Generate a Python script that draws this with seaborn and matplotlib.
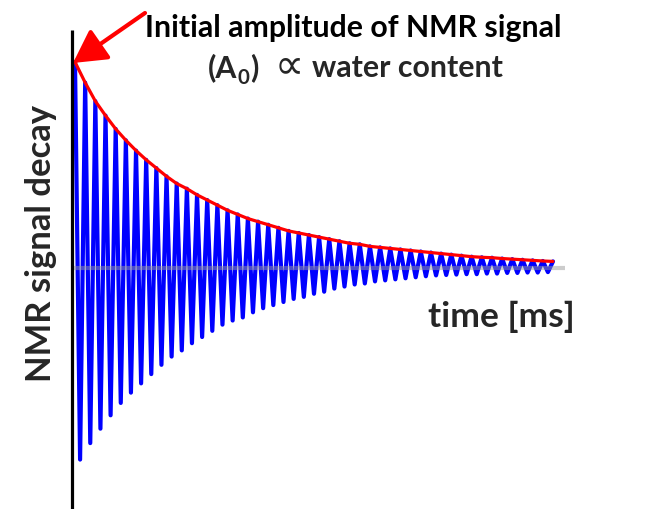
import matplotlib
matplotlib.use("Agg")
import matplotlib.pyplot as plt
import seaborn as sns
import pandas as pd
from matplotlib.patches import Rectangle

# ---------------- data ----------------
# signal in arbitrary units, initial amplitude A0 = 100
peak_times = list(range(48))                      # ms, upper maxima
peak_amp = [100, 90, 81, 74, 67.5, 62, 57, 52.5, 48.5, 44.5,
            41, 38.5, 35.5, 33, 30.5, 28, 26, 24, 22.5, 21,
            19.5, 18, 17, 16, 15, 14, 13, 12, 11.5, 10.5,
            10, 9.5, 9, 8.5, 8, 7.5, 7, 6.5, 6, 5.5,
            5.2, 5, 4.6, 4.3, 4, 3.7, 3.4, 3.2]
trough_times = [t + 0.5 for t in range(47)]       # ms, lower minima
trough_amp = [93, 85, 78, 71.5, 65.5, 60.5, 56, 51.5, 47, 43,
              40, 36.5, 33.5, 30.5, 27.5, 25.5, 24, 21.5, 19.5, 18,
              16.5, 15, 14, 12.5, 11.5, 10, 9, 8, 7.5, 6.5,
              6, 5.5, 5, 4.5, 4, 3.6, 3.4, 3.2, 3, 3,
              2.7, 2.7, 2.4, 2.4, 2.2, 2.2, 2]

title_line1 = "Initial amplitude of NMR signal"
title_line2_parts = ["(A", "0", ")", "\u221d", "water content"]
x_label = "time [ms]"
y_label = "NMR signal decay"

# ---------------- figure ----------------
sns.set_theme(style="white")
plt.rcParams["font.family"] = ["Lato", "DejaVu Sans"]

W, H = 666, 509
fig = plt.figure(figsize=(W / 100, H / 100), dpi=100)
fig.patch.set_facecolor("white")
ax = fig.add_axes([0, 0, 1, 1])
ax.set_axis_off()

x0, y0 = 75, 268            # pixel position of t=0, signal=0
px_per_ms, px_per_unit = 10.17, 2.06
ax.set_xlim(-x0 / px_per_ms, (W - x0) / px_per_ms)
ax.set_ylim((y0 - H) / px_per_unit, y0 / px_per_unit)

# interleave maxima and minima into the oscillating FID
times, values = [], []
for i, t in enumerate(peak_times):
    times.append(t); values.append(peak_amp[i])
    if i < len(trough_times):
        times.append(trough_times[i]); values.append(-trough_amp[i])
sig = pd.DataFrame({"time": times, "signal": values})
env = pd.DataFrame({"time": peak_times, "signal": peak_amp})

sns.lineplot(data=sig, x="time", y="signal", sort=False, estimator=None,
             color="#0000ff", lw=3.0, ax=ax, legend=False,
             solid_joinstyle="round", zorder=2)

# baseline (semi-transparent grey)
t_start = -0.3
t_end = peak_times[-1] + 1.2
ax.plot([t_start, t_end], [0, 0], color="#9a9a9a", alpha=0.5, lw=3,
        solid_capstyle="butt", zorder=3)

sns.lineplot(data=env, x="time", y="signal", sort=False, estimator=None,
             color="#ff0000", lw=2.3, ax=ax, legend=False, zorder=4)

# vertical axis line
ylo, yhi = ax.get_ylim()
ax.plot([t_start, t_start], [ylo, (y0 - 30) / px_per_unit], color="black",
        lw=2.3, solid_capstyle="butt", zorder=5)

ax.set_xlabel(""); ax.set_ylabel("")

# white box behind the time label
fig.patches.append(Rectangle((405 / W, 1 - 345 / H), 190 / W, 63 / H,
                             transform=fig.transFigure, facecolor="white",
                             edgecolor="none", zorder=6))

# arrow
ax.annotate("", xy=(73 / W, 1 - 63 / H), xycoords="figure fraction",
            xytext=(145 / W, 1 - 13 / H), textcoords="figure fraction",
            arrowprops=dict(arrowstyle="-|>,head_length=1.0,head_width=0.55",
                            color="#ff0000", lw=3, mutation_scale=20,
                            shrinkA=0, shrinkB=0), zorder=7)

renderer = fig.canvas.get_renderer()


def fit(txt, target, along="w"):
    for _ in range(3):
        bb = txt.get_window_extent(renderer)
        cur = bb.width if along == "w" else bb.height
        txt.set_fontsize(txt.get_fontsize() * target / cur)


def fx(x):
    return x / W


def fy(y):
    return 1 - y / H


t1 = fig.text(fx(353.5), fy(37), title_line1, ha="center", va="baseline",
              fontsize=22, fontweight="bold", color="black", zorder=8)
fit(t1, 417)
fs = t1.get_fontsize()

# second title line, composed of pieces
base2 = 77
p1 = fig.text(fx(208), fy(base2), title_line2_parts[0], ha="left", va="baseline",
              fontsize=fs, fontweight="bold", zorder=8)
xr = p1.get_window_extent(renderer).x1
p2 = fig.text(fx(xr + 0.5), fy(base2 + fs * 100 / 72 * 0.22), title_line2_parts[1],
              ha="left", va="baseline", fontsize=fs * 0.68, fontweight="bold", zorder=8)
xr = p2.get_window_extent(renderer).x1
p3 = fig.text(fx(xr + 0.5), fy(base2), title_line2_parts[2], ha="left", va="baseline",
              fontsize=fs, fontweight="bold", zorder=8)
p4 = fig.text(fx(275), fy(base2), title_line2_parts[3], ha="left", va="baseline",
              fontsize=fs * 1.35, fontweight="normal", family=["DejaVu Sans"], zorder=8)
p5 = fig.text(fx(312), fy(base2), title_line2_parts[4], ha="left", va="baseline",
              fontsize=fs, fontweight="bold", zorder=8)

tx = fig.text(fx(428), fy(327), x_label, ha="left", va="baseline",
              fontsize=fs, fontweight="bold", zorder=8)
fit(tx, 147)

ty = fig.text(fx(57), fy(243.5), y_label, ha="right", va="center", rotation=90,
              fontsize=fs, fontweight="bold", zorder=8)
fit(ty, 277, along="h")

fig.savefig("out.png", dpi=100, facecolor="white")
